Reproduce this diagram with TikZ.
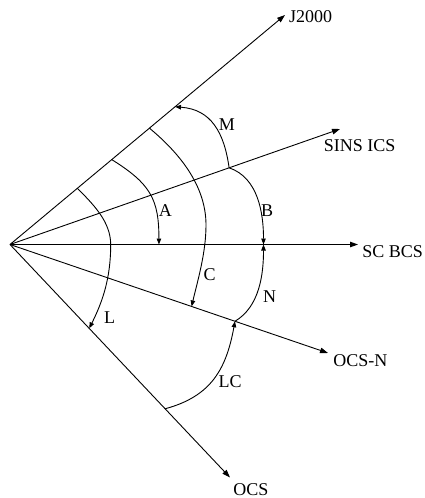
\documentclass[tikz,border=0pt]{standalone}
\usepackage{fontspec}
\setmainfont{Liberation Serif}
\usetikzlibrary{arrows.meta,calc}
\begin{document}
\begin{tikzpicture}[x=1pt,y=-1pt,
  ray/.style={line width=0.9pt,-{Triangle[length=8pt,width=5.5pt]}},
  arcline/.style={line width=0.9pt,-{Triangle[length=6pt,width=4.5pt]}},
  lbl/.style={inner sep=0pt,anchor=base,font=\fontsize{18}{20}\selectfont}]
\useasboundingbox (0,0) rectangle (424,498);
% origin and ray tips
\coordinate (O) at (10,244.5);
\coordinate (J) at (285,15);
\coordinate (SI) at (340,129);
\coordinate (SC) at (358,244.5);
\coordinate (ON) at (328,353);
\coordinate (OC) at (230,477.5);
% rays
\draw[ray] (O) -- (J);
\draw[ray] (O) -- (SI);
\draw[ray] (O) -- (SC);
\draw[ray] (O) -- (ON);
\draw[ray] (O) -- (OC);
% ray labels
\node[lbl] (lJ) at (310.5,22.5) {J2000};
\node[lbl] (lSI) at (359.7,151.5) {SINS ICS};
\node[lbl] (lSC) at (392.7,257) {SC BCS};
\node[lbl] (lON) at (360.3,366) {OCS-N};
\node[lbl] (lOC) at (250.8,495) {OCS};
% arc end points on rays
\coordinate (Ls) at ($(O)!0.245!(J)$);
\coordinate (Lm) at (110.7,244.7);
\coordinate (Le) at ($(O)!0.36!(OC)$);
\coordinate (As) at ($(O)!0.37!(J)$);
\coordinate (Ae) at ($(O)!0.428!(SC)$);
\coordinate (Cs) at ($(O)!0.507!(J)$);
\coordinate (Cm) at (206,225);
\coordinate (Ce) at ($(O)!0.571!(ON)$);
\coordinate (MB) at ($(O)!0.664!(SI)$);
\coordinate (Me) at ($(O)!0.60!(J)$);
\coordinate (BN) at ($(O)!0.7285!(SC)$);
\coordinate (NL) at ($(O)!0.7075!(ON)$);
\coordinate (LCs) at ($(O)!0.705!(OC)$);
% arcs
\draw[arcline] (Ls) .. controls (93.5,204.6) and (110.7,221.7) .. (Lm)
  .. controls (110.7,278) and (102.7,301.5) .. (Le);
\draw[arcline] (As) .. controls (150.9,184) and (158.9,199.5) .. (Ae);
\draw[arcline] (Cs) .. controls (179.7,153.3) and (206,185.7) .. (Cm)
  .. controls (206,252.6) and (197.9,279.7) .. (Ce);
\draw[arcline] (MB) .. controls (224.1,132.2) and (211,109.3) .. (Me);
\draw[arcline] (MB) .. controls (258.4,177.7) and (263.5,213.7) .. (BN);
\draw[arcline] (NL) .. controls (259.9,306.5) and (263.5,273.5) .. (BN);
\draw[arcline] (LCs) .. controls (211.7,396.3) and (226.4,368.3) .. (NL);
% arc labels
\node[lbl] (lM) at (226.8,130) {M};
\node[lbl] (lA) at (165.3,216) {A};
\node[lbl] (lB) at (267.2,216) {B};
\node[lbl] (lC) at (209.7,280.5) {C};
\node[lbl] (lN) at (269.7,302) {N};
\node[lbl] (lL) at (109.5,323) {L};
\node[lbl] (lLC) at (230,387.5) {LC};
\end{tikzpicture}
\end{document}
